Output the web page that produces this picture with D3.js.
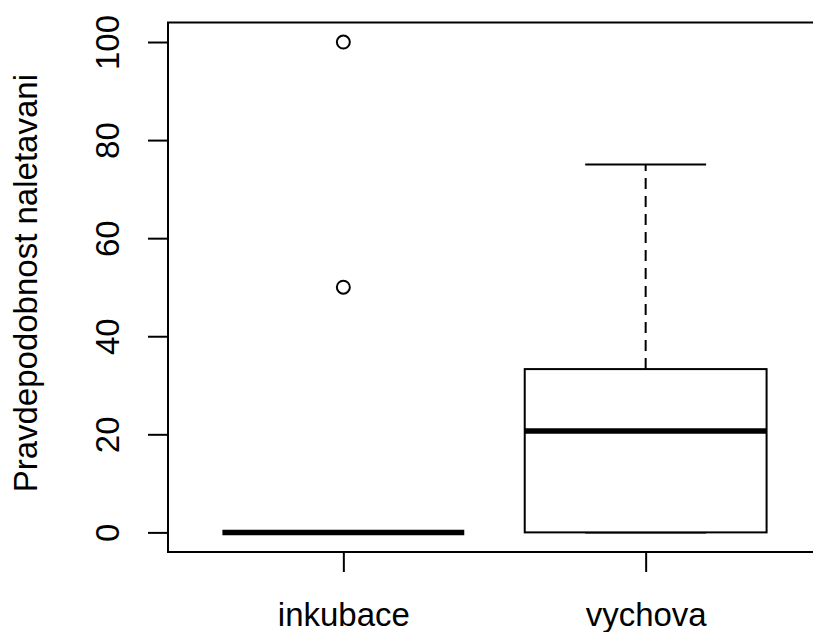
<!DOCTYPE html>
<html>
<head>
<meta charset="utf-8">
<script src="https://cdn.jsdelivr.net/npm/d3@7"></script>
<style>
	html, body { margin: 0; background: #fff; overflow: hidden; }
	#chartContainer { width: 813px; height: 632px; overflow: hidden; }
	text { font-family: "Liberation Sans", Arial, sans-serif; fill: #000; }
</style>
</head>
<body>
<div id="chartContainer"></div>
<script>

// groups and box statistics
var groups = ["inkubace", "vychova"]
var lowerWhisker = [0, 0]
var lowerQuartile = [0, 0]
var medians = [0, 20.7]
var upperQuartile = [0, 33.3]
var upperWhisker = [0, 75]
var outliers = [[50, 100], []]

var yTicks = [0, 20, 40, 60, 80, 100]
var yTitle = "Pravdepodobnost naletavani"

function makeChart() {

	var width = 813
	var height = 632
	// the plot frame runs past the right edge of the picture
	var margin = {top: 22.4, right: -8, bottom: 80, left: 168}
	var fontSize = 33

	d3.select("#chartContainer svg").remove();

	var svg = d3.select("#chartContainer").append("svg")
		.attr("width", width)
		.attr("height", height)
		.attr("viewBox", "0 0 " + width + " " + height)
		.attr("overflow", "hidden")

	svg.append("clipPath")
		.attr("id", "pageClip")
		.append("rect")
			.attr("width", width)
			.attr("height", height)

	var chart = svg.append("g")
		.attr("clip-path", "url(#pageClip)")

	// R style: range extended by 4% on each side
	var ext = (yTicks[yTicks.length - 1] - yTicks[0]) * 0.04

	var x = d3.scaleLinear()
		.domain([0.5 - 0.08, groups.length + 0.5 + 0.08])
		.range([margin.left, width - margin.right])

	var y = d3.scaleLinear()
		.domain([yTicks[0] - ext, yTicks[yTicks.length - 1] + ext])
		.range([height - margin.bottom, margin.top])

	var boxWidth = (x(2) - x(1)) * 0.8
	var capWidth = boxWidth / 2

	var data = groups.map(function(g, i) {
		return {
			name: g,
			pos: i + 1,
			lo: lowerWhisker[i],
			q1: lowerQuartile[i],
			med: medians[i],
			q3: upperQuartile[i],
			hi: upperWhisker[i],
			out: outliers[i]
		}
	})

	var boxes = chart.append("g")
		.selectAll(".box")
		.data(data)
		.enter().append("g")
			.attr("class", "box")

	// whiskers
	boxes.append("line")
		.attr("x1", d => x(d.pos))
		.attr("x2", d => x(d.pos))
		.attr("y1", d => y(d.q3))
		.attr("y2", d => y(d.hi))
		.attr("stroke", "#000")
		.attr("stroke-width", 2)
		.attr("stroke-dasharray", "11,7")

	boxes.append("line")
		.attr("x1", d => x(d.pos))
		.attr("x2", d => x(d.pos))
		.attr("y1", d => y(d.q1))
		.attr("y2", d => y(d.lo))
		.attr("stroke", "#000")
		.attr("stroke-width", 2)
		.attr("stroke-dasharray", "11,7")

	boxes.append("line")
		.attr("x1", d => x(d.pos) - capWidth / 2)
		.attr("x2", d => x(d.pos) + capWidth / 2)
		.attr("y1", d => y(d.hi))
		.attr("y2", d => y(d.hi))
		.attr("stroke", "#000")
		.attr("stroke-width", 2)

	boxes.append("line")
		.attr("x1", d => x(d.pos) - capWidth / 2)
		.attr("x2", d => x(d.pos) + capWidth / 2)
		.attr("y1", d => y(d.lo))
		.attr("y2", d => y(d.lo))
		.attr("stroke", "#000")
		.attr("stroke-width", 2)

	boxes.append("rect")
		.attr("x", d => x(d.pos) - boxWidth / 2)
		.attr("y", d => y(d.q3))
		.attr("width", boxWidth)
		.attr("height", d => y(d.q1) - y(d.q3))
		.attr("fill", "#fff")
		.attr("stroke", "#000")
		.attr("stroke-width", 2)

	boxes.append("line")
		.attr("x1", d => x(d.pos) - boxWidth / 2)
		.attr("x2", d => x(d.pos) + boxWidth / 2)
		.attr("y1", d => y(d.med))
		.attr("y2", d => y(d.med))
		.attr("stroke", "#000")
		.attr("stroke-width", 5.5)

	boxes.selectAll(".outlier")
		.data(d => d.out.map(v => ({pos: d.pos, v: v})))
		.enter().append("circle")
			.attr("class", "outlier")
			.attr("cx", d => x(d.pos))
			.attr("cy", d => y(d.v))
			.attr("r", 6.5)
			.attr("fill", "none")
			.attr("stroke", "#000")
			.attr("stroke-width", 2)

	// frame: top, left and bottom sides, the right side is off the page
	var x0 = x.range()[0], x1 = x.range()[1]
	var y0 = y.range()[0], y1 = y.range()[1]
	chart.append("path")
		.attr("d", "M" + x1 + "," + y1 + "H" + x0 + "V" + y0 + "H" + x1)
		.attr("fill", "none")
		.attr("stroke", "#000")
		.attr("stroke-width", 2)

	// y axis
	var yAxis = chart.append("g")
		.attr("transform", "translate(" + x0 + ",0)")
		.call(d3.axisLeft(y).tickValues(yTicks).tickSize(20).tickFormat(d3.format("d")))

	yAxis.select(".domain").remove()
	yAxis.selectAll(".tick line").attr("stroke-width", 2)
	yAxis.selectAll(".tick text")
		.attr("x", null)
		.attr("dy", null)
		.attr("transform", "translate(-49,0) rotate(-90)")
		.attr("text-anchor", "middle")
		.style("font-size", fontSize + "px")
		.style("font-family", "'Liberation Sans', Arial, sans-serif")

	// x axis
	var xAxis = chart.append("g")
		.attr("transform", "translate(0," + y0 + ")")
		.call(d3.axisBottom(x).tickValues(data.map(d => d.pos)).tickSize(20).tickFormat((d, i) => groups[i]))

	xAxis.select(".domain").remove()
	xAxis.selectAll(".tick line").attr("stroke-width", 2)
	xAxis.selectAll(".tick text")
		.attr("y", 74)
		.attr("dy", null)
		.style("font-size", fontSize + "px")
		.style("font-family", "'Liberation Sans', Arial, sans-serif")

	chart.append("text")
		.attr("transform", "translate(37," + ((y0 + y1) / 2 - 4) + ") rotate(-90)")
		.attr("text-anchor", "middle")
		.style("font-size", fontSize + "px")
		.text(yTitle)
}

makeChart();

</script>
</body>
</html>
